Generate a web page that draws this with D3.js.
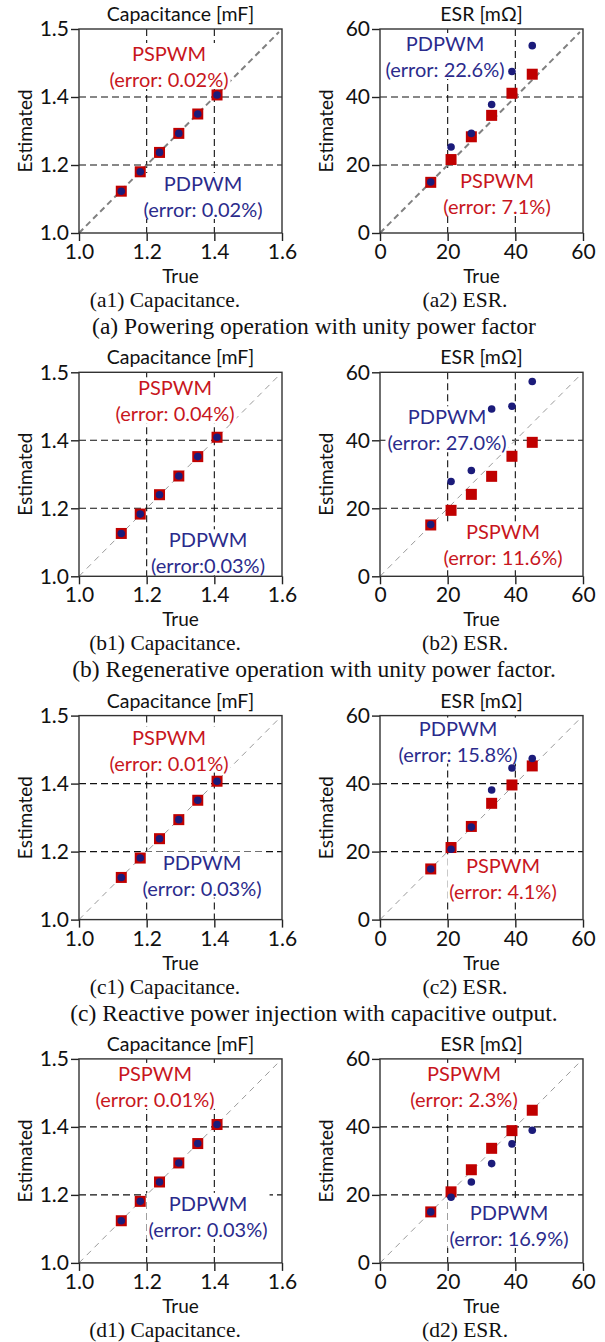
<!DOCTYPE html>
<html>
<head>
<meta charset="utf-8">
<script src="https://cdn.jsdelivr.net/npm/d3@7"></script>
<style>
  body { margin: 0; background: #fff; }
  svg { display: block; }
</style>
</head>
<body>
<svg id="chart" width="605" height="1342"></svg>
<script>
// ---- data ----
const capTrue = [1.125, 1.181, 1.238, 1.295, 1.351, 1.408];
const capPsA = [1.123, 1.180, 1.237, 1.293, 1.350, 1.406];
const capPdA = [1.123, 1.180, 1.237, 1.293, 1.350, 1.406];
const capPsB = [1.126, 1.183, 1.240, 1.295, 1.352, 1.409];
const capPdB = [1.126, 1.183, 1.240, 1.295, 1.352, 1.409];
const capPsC = [1.124, 1.181, 1.238, 1.294, 1.351, 1.407];
const capPdC = [1.124, 1.181, 1.238, 1.294, 1.351, 1.407];
const capPsD = [1.124, 1.181, 1.238, 1.294, 1.351, 1.407];
const capPdD = [1.124, 1.181, 1.238, 1.294, 1.351, 1.407];

const esrTrue = [15, 21, 27, 33, 39, 45];
const esrPsA = [14.9, 21.6, 28.3, 34.6, 41.1, 46.7];
const esrPdA = [15.0, 25.3, 29.3, 37.8, 47.5, 55.1];
const esrPsB = [15.1, 19.4, 24.1, 29.4, 35.3, 39.4];
const esrPdB = [15.2, 27.9, 31.1, 49.2, 50.0, 57.3];
const esrPsC = [14.9, 21.2, 27.4, 34.2, 39.6, 45.2];
const esrPdC = [14.9, 20.7, 27.2, 38.1, 44.6, 47.4];
const esrPsD = [15.0, 20.9, 27.4, 33.7, 38.9, 44.9];
const esrPdD = [15.0, 19.3, 23.8, 29.2, 35.0, 39.0];

const capTicks = [1.0, 1.2, 1.4, 1.6];
const capXTickLabels = ["1.0", "1.2", "1.4", "1.6"];
const capYTickLabels = ["1.0", "1.2", "1.4", "1.5"];
const esrTicks = [0, 20, 40, 60];
const esrTickLabels = ["0", "20", "40", "60"];

const capErrPs = ["(error: 0.02%)", "(error: 0.04%)", "(error: 0.01%)", "(error: 0.01%)"];
const capErrPd = ["(error: 0.02%)", "(error:0.03%)", "(error: 0.03%)", "(error: 0.03%)"];
const esrErrPs = ["(error: 7.1%)", "(error: 11.6%)", "(error: 4.1%)", "(error: 2.3%)"];
const esrErrPd = ["(error: 22.6%)", "(error: 27.0%)", "(error: 15.8%)", "(error: 16.9%)"];

const subCapLabels = ["(a1) Capacitance.", "(b1) Capacitance.", "(c1) Capacitance.", "(d1) Capacitance."];
const subEsrLabels = ["(a2) ESR.", "(b2) ESR.", "(c2) ESR.", "(d2) ESR."];
const rowCaptions = [
  "(a) Powering operation with unity power factor",
  "(b) Regenerative operation with unity power factor.",
  "(c) Reactive power injection with capacitive output."
];

const capPs = [capPsA, capPsB, capPsC, capPsD];
const capPd = [capPdA, capPdB, capPdC, capPdD];
const esrPs = [esrPsA, esrPsB, esrPsC, esrPsD];
const esrPd = [esrPdA, esrPdB, esrPdC, esrPdD];

// ---- layout ----
const RED = "#c00000", NAVY = "#1b1b7a";
const RED_TXT = "#c8161d", NAVY_TXT = "#2b2b8c";
const SANS = "Lato, 'Open Sans', sans-serif";
const SERIF = "'Liberation Serif', 'Times New Roman', serif";
const plotW = 203, plotH = 204;
const leftX = 79, rightX = 380;
const rowTop = i => 29 + i * 343.3;

// label block centres, relative to plot (top-left)
const capLabelPos = [
  { ps: [90, 24], pd: [124, 154] },
  { ps: [96, 15], pd: [129, 167] },
  { ps: [90, 21], pd: [123, 146] },
  { ps: [76, 14], pd: [129, 144] }
];
const esrLabelPos = [
  { pd: [65, 14], ps: [117, 151] },
  { pd: [67, 44], ps: [123, 159] },
  { pd: [78, 12], ps: [123, 149] },
  { ps: [84, 14], pd: [129, 153] }
];

const svg = d3.select("#chart");
svg.append("rect").attr("width", 605).attr("height", 1342).attr("fill", "#fff");

function drawPanel(x0, y0, cfg) {
  const g = svg.append("g").attr("transform", `translate(${x0},${y0})`);
  const x = d3.scaleLinear().domain(cfg.domain).range([0, plotW]);
  const y = d3.scaleLinear().domain(cfg.domain).range([plotH, 0]);
  const lo = cfg.domain[0], hi = cfg.domain[1];

  // reference lines at the middle ticks
  const grid = g.append("g").attr("stroke", "#111").attr("stroke-width", 1.1)
    .attr("stroke-dasharray", "7,4");
  cfg.ticks.slice(1, 3).forEach(v => {
    grid.append("line").attr("x1", x(v)).attr("x2", x(v)).attr("y1", 0).attr("y2", plotH);
    grid.append("line").attr("x1", 0).attr("x2", plotW).attr("y1", y(v)).attr("y2", y(v));
  });

  // diagonal y = x
  const dEnd = lo + (hi - lo) * 0.985;
  g.append("line")
    .attr("x1", x(lo)).attr("y1", y(lo)).attr("x2", x(dEnd)).attr("y2", y(dEnd))
    .attr("stroke", cfg.bold ? "#808080" : "#9a9a9a")
    .attr("stroke-width", cfg.bold ? 2 : 1)
    .attr("stroke-dasharray", cfg.bold ? "6,4" : "6,5");

  // annotation labels with white backing
  function label(pos, lines, color) {
    const t = g.append("g");
    lines.forEach((s, k) => {
      t.append("text")
        .attr("x", pos[0]).attr("y", pos[1] + k * 26)
        .attr("text-anchor", "middle").attr("dominant-baseline", "central")
        .attr("font-family", SANS).attr("font-size", 20)
        .attr("fill", color).text(s);
    });
    const bb = t.node().getBBox();
    t.insert("rect", "text")
      .attr("x", bb.x - 2).attr("y", bb.y + 2).attr("width", bb.width + 4).attr("height", bb.height - 4)
      .attr("fill", "#fff");
  }
  label(cfg.psPos, ["PSPWM", cfg.psErr], RED_TXT);
  label(cfg.pdPos, ["PDPWM", cfg.pdErr], NAVY_TXT);

  // markers
  const sq = cfg.sq;
  g.selectAll(".sq").data(cfg.trueV).enter().append("rect")
    .attr("x", d => x(d) - sq / 2).attr("y", (d, i) => y(cfg.ps[i]) - sq / 2)
    .attr("width", sq).attr("height", sq).attr("fill", RED);
  g.selectAll(".dot").data(cfg.trueV).enter().append("circle")
    .attr("cx", d => x(d)).attr("cy", (d, i) => y(cfg.pd[i])).attr("r", 3.8)
    .attr("fill", NAVY);

  // axes
  const ax = d3.axisBottom(x).tickValues(cfg.ticks)
    .tickFormat((d, i) => cfg.xLabels[i]).tickSize(8).tickSizeOuter(0).tickPadding(3);
  const ay = d3.axisLeft(y).tickValues(cfg.ticks)
    .tickFormat((d, i) => cfg.yLabels[i]).tickSize(8).tickSizeOuter(0).tickPadding(2);
  [g.append("g").attr("transform", `translate(0,${plotH})`).call(ax),
   g.append("g").call(ay)].forEach(a => {
    a.select(".domain").remove();
    a.selectAll("line").attr("stroke", "#222").attr("stroke-width", 1.4);
    a.selectAll("text").attr("font-family", SANS).attr("font-size", 21).attr("fill", "#111");
  });

  // frame
  g.append("rect").attr("width", plotW).attr("height", plotH)
    .attr("fill", "none").attr("stroke", "#333").attr("stroke-width", 1.4);

  // titles
  g.append("text").attr("x", plotW / 2).attr("y", -8).attr("text-anchor", "middle")
    .attr("font-family", SANS).attr("font-size", 19.5).attr("fill", "#111").text(cfg.title);
  g.append("text").attr("x", plotW / 2).attr("y", plotH + 50).attr("text-anchor", "middle")
    .attr("font-family", SANS).attr("font-size", 19).attr("fill", "#111").text("True");
  g.append("text").attr("transform", `translate(-47,${plotH / 2}) rotate(-90)`)
    .attr("text-anchor", "middle")
    .attr("font-family", SANS).attr("font-size", 19).attr("fill", "#111").text("Estimated");
}

for (let i = 0; i < 4; i++) {
  const top = rowTop(i);
  drawPanel(leftX, top, {
    domain: [1.0, 1.6], ticks: capTicks, xLabels: capXTickLabels, yLabels: capYTickLabels,
    trueV: capTrue, ps: capPs[i], pd: capPd[i], sq: 11, bold: i === 0,
    psErr: capErrPs[i], pdErr: capErrPd[i],
    psPos: capLabelPos[i].ps, pdPos: capLabelPos[i].pd, title: "Capacitance [mF]"
  });
  drawPanel(rightX, top, {
    domain: [0, 60], ticks: esrTicks, xLabels: esrTickLabels, yLabels: esrTickLabels,
    trueV: esrTrue, ps: esrPs[i], pd: esrPd[i], sq: 11, bold: i === 0,
    psErr: esrErrPs[i], pdErr: esrErrPd[i],
    psPos: esrLabelPos[i].ps, pdPos: esrLabelPos[i].pd, title: "ESR [m\u03A9]"
  });

  svg.append("text").attr("x", 165).attr("y", top + 278).attr("text-anchor", "middle")
    .attr("font-family", SERIF).attr("font-size", 21.5).attr("fill", "#111").text(subCapLabels[i]);
  svg.append("text").attr("x", 465).attr("y", top + 278).attr("text-anchor", "middle")
    .attr("font-family", SERIF).attr("font-size", 21.5).attr("fill", "#111").text(subEsrLabels[i]);
  if (i < rowCaptions.length) {
    svg.append("text").attr("x", 314).attr("y", top + 305).attr("text-anchor", "middle")
      .attr("font-family", SERIF).attr("font-size", 23.5).attr("fill", "#111").text(rowCaptions[i]);
  }
}
</script>
</body>
</html>
